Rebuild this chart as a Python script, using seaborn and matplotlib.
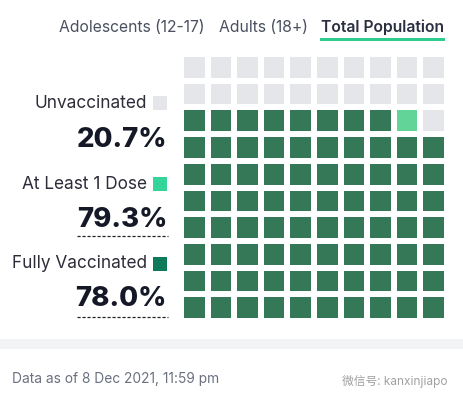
import numpy as np
import seaborn as sns
import matplotlib.pyplot as plt
from matplotlib.colors import ListedColormap
from matplotlib.patches import Rectangle

# =========================
# DATA
# =========================

tabs = ["Adolescents (12-17)", "Adults (18+)", "Total Population"]
categories = ["Unvaccinated", "At Least 1 Dose", "Fully Vaccinated"]
percentages = [20.7, 79.3, 78.0]
cat_colors = ["#e5e6ea", "#35d49a", "#0f7a5a"]
grid_colors = ["#e5e6ea", "#62d498", "#347857"]
footnote = "Data as of 8 Dec 2021, 11:59 pm"
watermark = "微信号: kanxinjiapo"

# =========================
# WAFFLE MATRIX (10 x 10, filled from bottom-left)
# =========================

n_full = int(round(percentages[2]))
n_one = int(round(percentages[1]))
flat = np.zeros(100, dtype=int)
flat[:n_one] = 1
flat[:n_full] = 2
grid = flat.reshape(10, 10)[::-1]

# =========================
# FIGURE
# =========================

sns.set_style("white")
plt.rcParams['font.family'] = ['Inter', 'Noto Sans CJK SC', 'DejaVu Sans']

W, H = 463, 405
fig = plt.figure(figsize=(W / 100, H / 100), dpi=100)

def px(x, y):
    return x / W, 1 - y / H

ax = fig.add_axes([181 / W, 1 - 321 / H, 266 / W, 267 / H])
sns.heatmap(
    grid,
    ax=ax,
    cmap=ListedColormap(grid_colors),
    vmin=-0.5,
    vmax=2.5,
    cbar=False,
    linewidths=2.9,
    linecolor="white",
    xticklabels=False,
    yticklabels=False,
)
ax.set_aspect("auto")

# tabs
tab_x = [59, 219, 321]
for i, (t, x) in enumerate(zip(tabs, tab_x)):
    sel = i == len(tabs) - 1
    fig.text(*px(x, 27), t, fontsize=11.3, ha="left", va="center",
             color="#2b2f3f" if sel else "#4b5060",
             fontweight="semibold" if sel else "normal")
fig.add_artist(Rectangle(px(320, 41), 125 / W, 2.5 / H,
                         transform=fig.transFigure, color="#2ecc8f", lw=0))

# legend labels and percentages
label_y = [103, 184, 264]
value_y = [140, 220, 299]
for name, pct, col, ly, vy in zip(categories, percentages, cat_colors, label_y, value_y):
    fig.text(*px(147, ly), name, fontsize=12.4, ha="right", va="center",
             color="#2d2d3a")
    fig.add_artist(Rectangle(px(153, ly + 7), 14 / W, 14 / H,
                             transform=fig.transFigure, color=col, lw=0))
    fig.text(*px(167, vy), f"{pct:.1f}%", fontsize=19.8, ha="right",
             va="center", color="#151826", fontweight="heavy")

for uy in [236, 317]:
    fig.add_artist(plt.Line2D([77 / W, 168 / W], [1 - uy / H] * 2,
                              transform=fig.transFigure, color="#222222",
                              lw=0.9, ls=(0, (2.5, 1.5))))

# footer
fig.add_artist(Rectangle(px(0, 349), 1, 10 / H,
                         transform=fig.transFigure, color="#f2f3f5", lw=0))
fig.text(*px(12, 379), footnote, fontsize=9.9, ha="left", va="center",
         color="#6b7080")
fig.text(*px(448, 381), watermark, fontsize=8.5, ha="right", va="center",
         color="#a0a0a0")

fig.savefig("out.png", dpi=100)
